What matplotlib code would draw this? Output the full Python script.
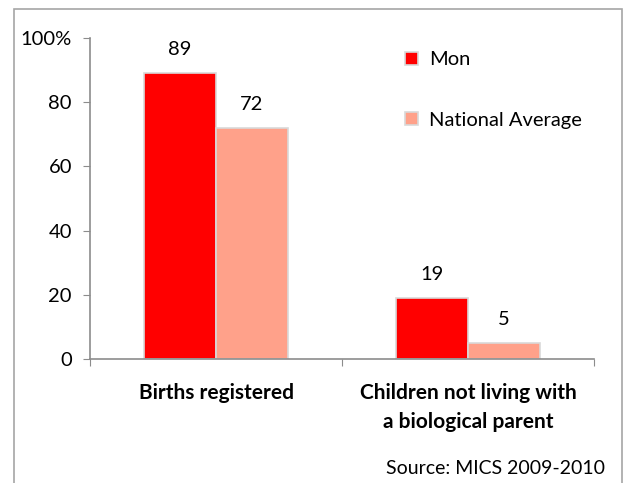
import matplotlib.pyplot as plt
from matplotlib.patches import Rectangle
import numpy as np

plt.rcParams['font.family'] = ['Lato', 'DejaVu Sans']

categories = ["Births registered", "Children not living with\na biological parent"]
mon = [89, 19]
national = [72, 5]
series_names = ["Mon", "National Average"]
y_ticks = [0, 20, 40, 60, 80, 100]
y_tick_labels = ["0", "20", "40", "60", "80", "100%"]

red = "#ff0000"
salmon = "#ffa18a"
edge = "#d9d9d9"
axis_grey = "#8c8c8c"

fig = plt.figure(figsize=(6.32, 4.83), dpi=100)
ax = fig.add_axes([0.1424, 0.2567, 0.7975, 0.6646])

# outer frame around the whole chart area
fig.patches.append(Rectangle((14 / 632, -0.05), (622 - 14) / 632, 1 - 9 / 483 + 0.05,
                             transform=fig.transFigure, fill=False,
                             edgecolor="#a6a6a6", linewidth=1.2))

x = np.arange(len(categories))
w = 0.286
b1 = ax.bar(x - w / 2, mon, w, color=red, edgecolor=edge, linewidth=1.2, label=series_names[0])
b2 = ax.bar(x + w / 2, national, w, color=salmon, edgecolor=edge, linewidth=1.2, label=series_names[1])

for bars, vals in ((b1, mon), (b2, national)):
    for rect, v in zip(bars, vals):
        ax.annotate(str(v), (rect.get_x() + rect.get_width() / 2, v),
                    xytext=(0, 17), textcoords="offset points",
                    ha="center", va="center", fontsize=14.5)

ax.set_xlim(-0.5, 1.5)
ax.set_ylim(0, 100)
ax.set_yticks(y_ticks)
ax.set_yticklabels(y_tick_labels, fontsize=14.5)
ax.set_xticks([-0.5, 0.5, 1.5], minor=False)
ax.set_xticklabels([])
ax.set_xticks(x, minor=True)
ax.set_xticklabels(categories, minor=True, fontsize=15, fontweight="bold", linespacing=1.6)
ax.tick_params(axis="x", which="minor", length=0, pad=17)
ax.tick_params(axis="x", which="major", length=5, color=axis_grey, direction="out")
ax.tick_params(axis="y", length=5, color=axis_grey, pad=8)

for side in ("top", "right"):
    ax.spines[side].set_visible(False)
for side in ("left", "bottom"):
    ax.spines[side].set_color(axis_grey)
    ax.spines[side].set_linewidth(1.2)

leg = ax.legend(loc="upper left", bbox_to_anchor=(0.59, 1.015), frameon=False,
                fontsize=14.5, handlelength=0.6, handleheight=0.6,
                handletextpad=0.55, labelspacing=2.15)

fig.text(605 / 632, 1 - 468 / 483, "Source: MICS 2009-2010", ha="right",
         va="center", fontsize=14)

fig.savefig("out.png", dpi=100)
